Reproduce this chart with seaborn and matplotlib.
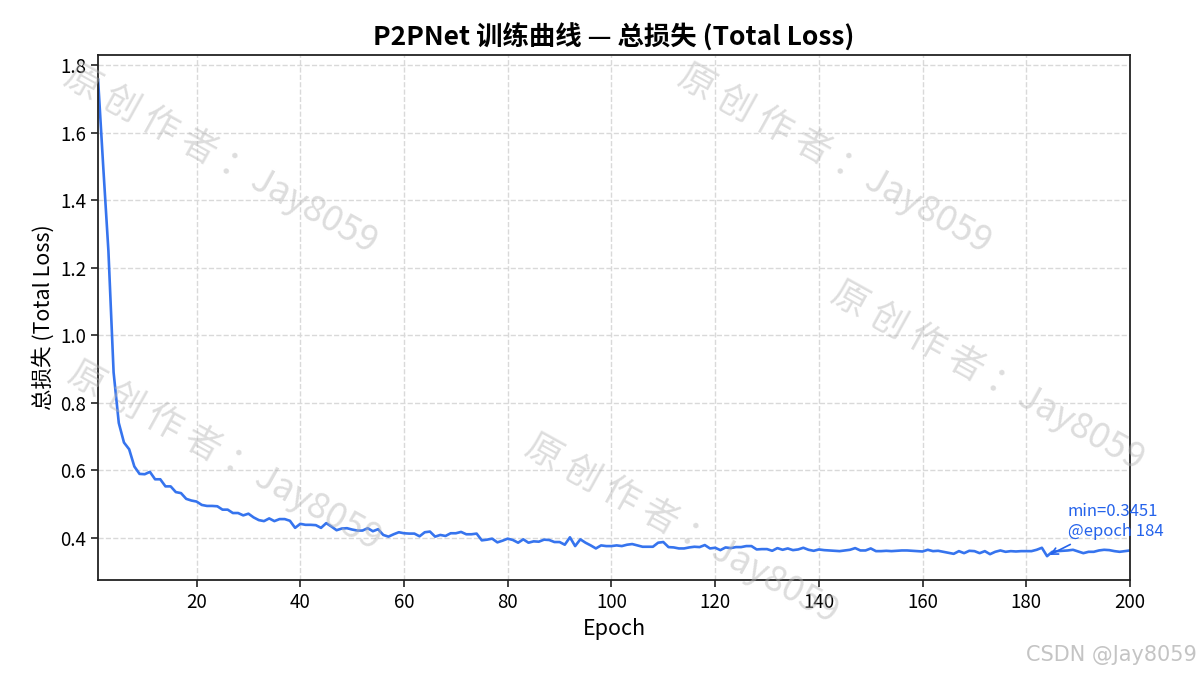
import matplotlib
matplotlib.use("Agg")
import matplotlib.pyplot as plt
import seaborn as sns
import pandas as pd

# Total loss per epoch
loss = [
    1.760, 1.500, 1.250, 0.890, 0.740, 0.682, 0.662, 0.611, 0.589, 0.588,
    0.595, 0.573, 0.573, 0.552, 0.552, 0.535, 0.532, 0.515, 0.510, 0.507,
    0.497, 0.494, 0.494, 0.493, 0.483, 0.483, 0.473, 0.473, 0.466, 0.471,
    0.460, 0.452, 0.449, 0.457, 0.449, 0.455, 0.455, 0.450, 0.429, 0.441,
    0.438, 0.438, 0.437, 0.429, 0.443, 0.433, 0.422, 0.427, 0.428, 0.424,
    0.421, 0.421, 0.428, 0.419, 0.425, 0.408, 0.403, 0.410, 0.416, 0.413,
    0.412, 0.412, 0.404, 0.416, 0.418, 0.403, 0.408, 0.405, 0.413, 0.413,
    0.417, 0.410, 0.410, 0.412, 0.392, 0.394, 0.397, 0.386, 0.391, 0.397,
    0.393, 0.385, 0.395, 0.385, 0.389, 0.388, 0.394, 0.393, 0.387, 0.387,
    0.379, 0.401, 0.375, 0.395, 0.385, 0.377, 0.368, 0.377, 0.375, 0.375,
    0.377, 0.375, 0.379, 0.381, 0.377, 0.373, 0.373, 0.373, 0.385, 0.387,
    0.372, 0.371, 0.368, 0.368, 0.371, 0.373, 0.372, 0.378, 0.368, 0.370,
    0.363, 0.371, 0.369, 0.372, 0.372, 0.375, 0.375, 0.365, 0.366, 0.366,
    0.361, 0.369, 0.364, 0.368, 0.363, 0.365, 0.370, 0.364, 0.361, 0.365,
    0.363, 0.362, 0.361, 0.360, 0.362, 0.364, 0.369, 0.362, 0.362, 0.368,
    0.360, 0.360, 0.361, 0.360, 0.361, 0.362, 0.362, 0.361, 0.360, 0.359,
    0.364, 0.360, 0.361, 0.358, 0.355, 0.352, 0.360, 0.354, 0.361, 0.360,
    0.354, 0.360, 0.351, 0.358, 0.362, 0.358, 0.360, 0.359, 0.360, 0.360,
    0.360, 0.364, 0.370, 0.3451, 0.358, 0.360, 0.361, 0.362, 0.364, 0.359,
    0.354, 0.358, 0.358, 0.362, 0.364, 0.363, 0.360, 0.358, 0.360, 0.362,
]
epochs = list(range(1, len(loss) + 1))

# watermark positions in figure pixels (x, y from top)
wm_pos = [(221, 158), (835, 158), (988, 375), (225, 455), (682, 528)]
wm_text = "原 创 作 者 ：Jay8059"

line_color = "#3674ee"
note_color = "#2563eb"

sns.set_style("ticks")
plt.rcParams["font.family"] = ["Noto Sans CJK SC", "DejaVu Sans"]
plt.rcParams["axes.unicode_minus"] = False

df = pd.DataFrame({"Epoch": epochs, "loss": loss})

fig = plt.figure(figsize=(12, 6.75), dpi=100)
ax = fig.add_axes([0.0817, 0.1407, 0.86, 0.7778])
sns.lineplot(data=df, x="Epoch", y="loss", ax=ax, color=line_color, linewidth=1.9)

ax.set_xlim(1, 200)
ax.set_xticks([20, 40, 60, 80, 100, 120, 140, 160, 180, 200])
ax.grid(True, linestyle="--", color="#d9d9d9", linewidth=1.0)
for s in ax.spines.values():
    s.set_color("#222222")
    s.set_linewidth(1.3)
ax.tick_params(labelsize=13.5, length=5, width=1.2, colors="#222222", labelcolor="black")

ax.set_title("P2PNet 训练曲线 — 总损失 (Total Loss)", fontsize=19, fontweight="bold",
             color="black", pad=7)
ax.set_xlabel("Epoch", fontsize=15.5, color="black")
ax.set_ylabel("总损失 (Total Loss)", fontsize=15.5, color="black")

# mark the minimum
i_min = loss.index(min(loss))
e_min = epochs[i_min]
v_min = loss[i_min]
ax.annotate(f"min={v_min:.4f}\n@epoch {e_min}", xy=(e_min, v_min),
            xytext=(e_min + 4, v_min + 0.06), fontsize=12, color=note_color,
            arrowprops=dict(arrowstyle="->", color=note_color, lw=1.2),
            annotation_clip=False)

# author watermark
W, H = 1200, 675
for px, py in wm_pos:
    fig.text(px / W, 1 - py / H, wm_text, fontsize=26, color="#b4b4b4", alpha=0.45,
             rotation=-29, ha="center", va="center", rotation_mode="anchor")

fig.text(0.9975, 0.03, "CSDN @Jay8059", fontsize=15, color="#c4c4c4",
         ha="right", va="center", family=["DejaVu Sans"])

fig.savefig("out.png", dpi=100)
